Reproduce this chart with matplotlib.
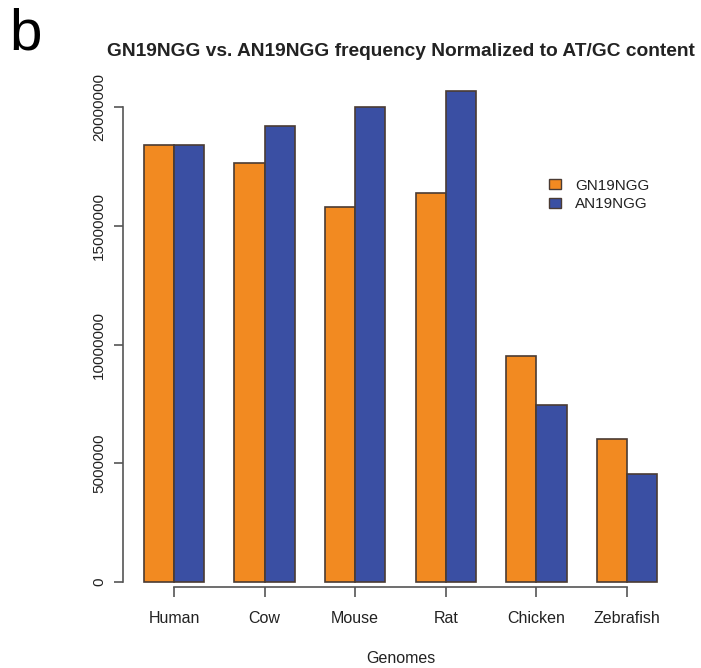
import matplotlib.pyplot as plt
from matplotlib.patches import Patch

plt.rcParams['font.family'] = ['Liberation Sans', 'DejaVu Sans']

genomes = ['Human', 'Cow', 'Mouse', 'Rat', 'Chicken', 'Zebrafish']
gn19ngg = [18400000, 17650000, 15800000, 16400000, 9520000, 6000000]
an19ngg = [18400000, 19230000, 20030000, 20700000, 7460000, 4550000]
yticks = [0, 5000000, 10000000, 15000000, 20000000]

orange = '#F28A21'
blue = '#3A4FA3'
edge = '#4A3B33'
axcol = '#555555'
txtcol = '#222222'

fig = plt.figure(figsize=(7.01, 6.68), dpi=100)
ax = fig.add_axes([0.1759, 0.1213, 0.791, 0.7536])

# barplot layout: groups of two bars with one bar-width gap before each group
left_o = [1 + 3 * i for i in range(len(genomes))]
left_b = [2 + 3 * i for i in range(len(genomes))]
centers = [2 + 3 * i for i in range(len(genomes))]

ax.bar(left_o, gn19ngg, width=1, align='edge', color=orange, edgecolor=edge, linewidth=1.2, label='GN19NGG')
ax.bar(left_b, an19ngg, width=1, align='edge', color=blue, edgecolor=edge, linewidth=1.2, label='AN19NGG')

ax.set_xlim(0.32, 18.68)
ax.set_ylim(-220000, 21000000)

for s in ['top', 'right']:
    ax.spines[s].set_visible(False)
ax.spines['left'].set_bounds(0, 20000000)
ax.spines['bottom'].set_bounds(centers[0], centers[-1])
for s in ['left', 'bottom']:
    ax.spines[s].set_color(axcol)
    ax.spines[s].set_linewidth(1.2)

ax.set_yticks(yticks)
ax.set_yticklabels([str(v) for v in yticks], rotation=90, va='center', fontsize=11, color=txtcol)
ax.set_xticks(centers)
ax.set_xticklabels(genomes, fontsize=11.5, color=txtcol)
ax.tick_params(axis='both', colors=axcol, width=1.2, labelcolor=txtcol)
ax.tick_params(axis='y', length=6.5, pad=6)
ax.tick_params(axis='x', length=7, pad=10)

ax.set_xlabel('Genomes', fontsize=11.5, color=txtcol, labelpad=18)

fig.text(400.5 / 701, 1 - 51.5 / 668, 'GN19NGG vs. AN19NGG frequency Normalized to AT/GC content',
         fontsize=13.8, fontweight='bold', color=txtcol, ha='center', va='center')
fig.text(9 / 701, 1 - 50 / 668, 'b', fontsize=42, color='black', va='baseline')

handles = [Patch(facecolor=orange, edgecolor=edge, label='GN19NGG'),
           Patch(facecolor=blue, edgecolor=edge, label='AN19NGG')]
fig.legend(handles=handles, loc='center left', bbox_to_anchor=(549 / 701, 1 - 195 / 668),
           frameon=False, borderpad=0, borderaxespad=0,
           fontsize=11, handlelength=0.8, handleheight=0.6, handletextpad=0.9,
           labelspacing=0.3, labelcolor=txtcol)

fig.savefig('out.png', dpi=100)
